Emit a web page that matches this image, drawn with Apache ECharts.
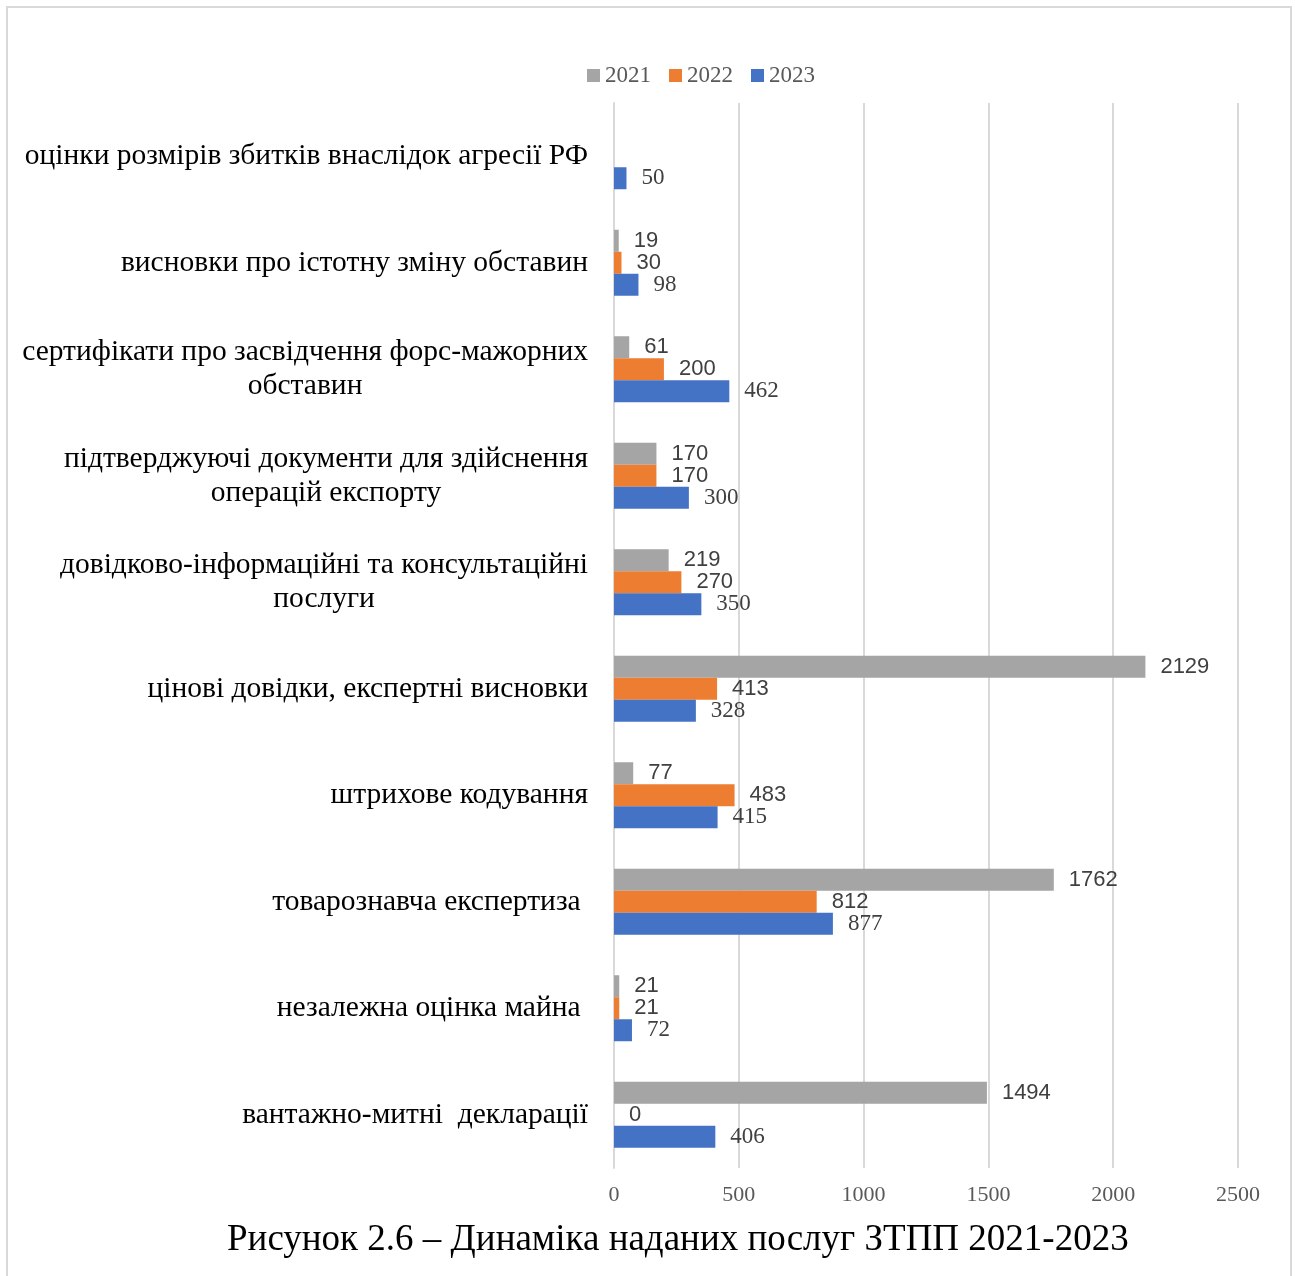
<!DOCTYPE html>
<html>
<head>
<meta charset="utf-8">
<script src="https://cdn.jsdelivr.net/npm/echarts@6/dist/echarts.min.js"></script>
<style>
  html, body { margin: 0; padding: 0; background: #fff; }
  #chart { width: 1295px; height: 1276px; }
</style>
</head>
<body>
<div id="chart"></div>
<script>
// категорії послуг (зверху вниз)
const categories = [
    'оцінки розмірів збитків внаслідок агресії РФ',
    'висновки про істотну зміну обставин',
    'сертифікати про засвідчення форс-мажорних\nобставин',
    'підтверджуючі документи для здійснення\nоперацій експорту',
    'довідково-інформаційні та консультаційні\nпослуги',
    'цінові довідки, експертні висновки',
    'штрихове кодування',
    'товарознавча експертиза ',
    'незалежна оцінка майна ',
    'вантажно-митні  декларації'
];

const years = ['2021', '2022', '2023'];

const values2021 = [null, 19, 61, 170, 219, 2129, 77, 1762, 21, 1494];
const values2022 = [null, 30, 200, 170, 270, 413, 483, 812, 21, 0];
const values2023 = [50, 98, 462, 300, 350, 328, 415, 877, 72, 406];

const xTicks = [0, 500, 1000, 1500, 2000, 2500];

const colors = ['#A5A5A5', '#ED7D31', '#4472C4'];
const serif = '"Liberation Serif", "Times New Roman", serif';
const sans = '"Liberation Sans", Arial, sans-serif';

const chart = echarts.init(document.getElementById('chart'));

function makeSeries(name, data, color, font, size) {
    return {
        name: name,
        type: 'bar',
        data: data,
        barWidth: 22,
        barGap: '0%',
        itemStyle: { color: color },
        label: {
            show: true,
            position: 'right',
            distance: 15,
            color: '#404040',
            fontFamily: font,
            fontSize: size
        }
    };
}

const option = {
    animation: false,
    backgroundColor: '#fff',
    graphic: [{
        type: 'rect',
        shape: { x: 7, y: 7, width: 1284, height: 1300 },
        style: { fill: 'none', stroke: '#d9d9d9', lineWidth: 2 }
    }],
    title: {
        text: 'Рисунок 2.6 – Динаміка наданих послуг ЗТПП 2021-2023',
        left: 222,
        top: 1217,
        textStyle: {
            fontFamily: serif,
            fontSize: 37,
            fontWeight: 'normal',
            color: '#000'
        }
    },
    legend: {
        data: years,
        left: 582,
        top: 59,
        itemWidth: 13,
        itemHeight: 13,
        itemGap: 18,
        icon: 'rect',
        textStyle: {
            fontFamily: serif,
            fontSize: 23,
            color: '#595959'
        }
    },
    grid: {
        left: 614,
        right: 57,
        top: 103,
        bottom: 108,
        containLabel: false
    },
    xAxis: {
        type: 'value',
        min: xTicks[0],
        max: xTicks[xTicks.length - 1],
        interval: 500,
        axisLine: { show: false },
        axisTick: { show: false },
        splitLine: { lineStyle: { color: '#d9d9d9', width: 2 } },
        axisLabel: {
            margin: 16,
            fontFamily: serif,
            fontSize: 22,
            color: '#595959',
            formatter: function (v) { return String(v); }
        }
    },
    yAxis: {
        type: 'category',
        data: categories,
        inverse: true,
        axisLine: { show: true, lineStyle: { color: '#d9d9d9', width: 2 } },
        axisTick: { show: false },
        axisLabel: {
            margin: 26,
            fontFamily: serif,
            fontSize: 29.5,
            color: '#000',
            lineHeight: 34,
            formatter: function (value) {
                return value.split('\n').map(s => '{c|' + s + '}').join('\n');
            },
            rich: {
                c: {
                    align: 'center',
                    fontFamily: serif,
                    fontSize: 29.5,
                    color: '#000',
                    lineHeight: 34
                }
            }
        }
    },
    series: [
        makeSeries(years[0], values2021, colors[0], sans, 22),
        makeSeries(years[1], values2022, colors[1], sans, 22),
        makeSeries(years[2], values2023, colors[2], serif, 23)
    ]
};

chart.setOption(option);
</script>
</body>
</html>
